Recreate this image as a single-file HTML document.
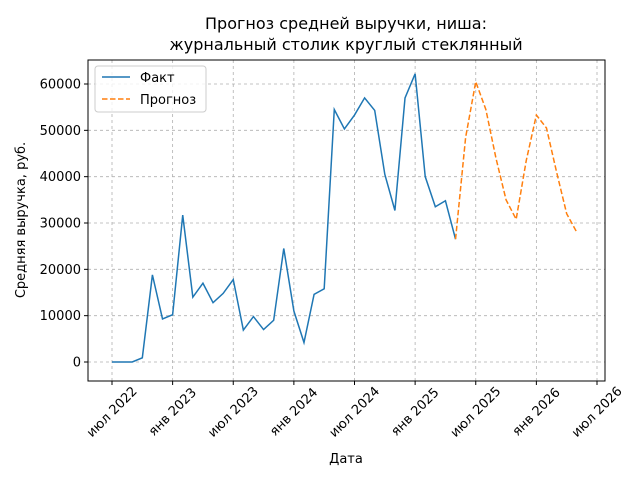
<!DOCTYPE html>
<html><head><meta charset="utf-8"><style>
body{margin:0;background:#fff;font-family:"Liberation Sans","DejaVu Sans",sans-serif}
svg text{font-family:"DejaVu Sans","Liberation Sans",sans-serif;fill:#000}
</style></head><body>
<svg id="chart" width="640" height="480" xmlns="http://www.w3.org/2000/svg">
<rect width="640" height="480" fill="#fff"/>
<text x="346" y="29" font-size="16" text-anchor="middle">Прогноз средней выручки, ниша:</text>
<text x="346" y="50" font-size="16" text-anchor="middle">журнальный столик круглый стеклянный</text>
<g id="grid"></g><g id="axes"></g><g id="series"></g>
<rect x="88" y="60" width="517" height="321" fill="none" stroke="#000" stroke-width="1"/>
<text x="346" y="463" font-size="13" text-anchor="middle">Дата</text>
<text transform="translate(25,220) rotate(-90)" font-size="13" text-anchor="middle">Средняя выручка, руб.</text>
<g>
<rect x="95" y="66" width="111" height="46" rx="3" fill="#fff" fill-opacity="0.8" stroke="#ccc"/>
<line x1="102" y1="77" x2="130" y2="77" stroke="#1f77b4" stroke-width="1.5"/>
<text x="140" y="82" font-size="13">Факт</text>
<line x1="102" y1="99" x2="130" y2="99" stroke="#ff7f0e" stroke-width="1.5" stroke-dasharray="5.5,2.5"/>
<text x="140" y="104" font-size="13">Прогноз</text>
</g>
</svg>
<script>
const factValues=[0,0,0,900,18800,9300,10200,31700,14000,17000,12800,14800,17800,6900,9800,7000,9000,24500,11000,4200,14600,15800,54500,50300,53300,57000,54300,40500,32700,57000,62200,40000,33500,34800,26500];
const forecastValues=[26500,48500,60500,54500,44000,35000,30800,43500,53300,50500,41000,32000,28000];
const yTicks=[0,10000,20000,30000,40000,50000,60000];
const xTickLabels=["июл 2022","янв 2023","июл 2023","янв 2024","июл 2024","янв 2025","июл 2025","янв 2026","июл 2026"];
const NS="http://www.w3.org/2000/svg";
const xm=m=>112+m*(597-112)/48;
const ys=v=>362-v*(362-84)/60000;
function mk(t,a,p){const e=document.createElementNS(NS,t);for(const k in a)e.setAttribute(k,a[k]);p.appendChild(e);return e;}
const grid=document.getElementById('grid'),axes=document.getElementById('axes'),ser=document.getElementById('series');
yTicks.forEach(v=>{const y=ys(v);
const g=mk('line',{x1:88,x2:605,y1:y,y2:y,stroke:'#b0b0b0','stroke-dasharray':'3,3','stroke-width':0.8},grid);

mk('line',{x1:84,x2:88,y1:y,y2:y,stroke:'#000'},axes);
const t=mk('text',{x:81,y:y+4.5,'font-size':13,'text-anchor':'end'},axes);t.textContent=v;
});
xTickLabels.forEach((l,i)=>{const x=xm(i*6);
const g=mk('line',{x1:x,x2:x,y1:60,y2:381,stroke:'#b0b0b0','stroke-dasharray':'3,3','stroke-width':0.8},grid);

mk('line',{x1:x,x2:x,y1:381,y2:385,stroke:'#000'},axes);
const t=mk('text',{x:x,y:416,'font-size':13,'text-anchor':'middle',transform:`rotate(-45 ${x} 412)`},axes);t.textContent=l;
});
const f=mk('polyline',{points:factValues.map((v,i)=>xm(i)+','+ys(v)).join(' '),fill:'none',stroke:'#1f77b4','stroke-width':1.5},ser);

const off=factValues.length-1;
const p=mk('polyline',{points:forecastValues.map((v,i)=>xm(off+i)+','+ys(v)).join(' '),fill:'none',stroke:'#ff7f0e','stroke-width':1.5,'stroke-dasharray':'5.5,2.5'},ser);

</script>
</body></html>
